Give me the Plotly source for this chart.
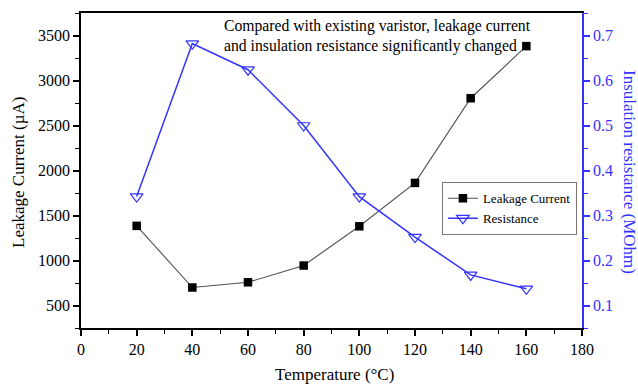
import plotly.graph_objects as go

# Temperature sweep and measured values
temperature = [20, 40, 60, 80, 100, 120, 140, 160]
leakage_current = [1385, 700, 758, 944, 1380, 1862, 2803, 3382]   # µA
resistance = [0.342, 0.682, 0.624, 0.500, 0.342, 0.252, 0.168, 0.137]  # MOhm

x_ticks = [0, 20, 40, 60, 80, 100, 120, 140, 160, 180]
y_ticks = [500, 1000, 1500, 2000, 2500, 3000, 3500]
y2_ticks = [0.1, 0.2, 0.3, 0.4, 0.5, 0.6, 0.7]

FONT = "Liberation Serif"
BLUE = "#3333ff"

fig = go.Figure()

fig.add_trace(go.Scatter(
    x=temperature, y=leakage_current, name="Leakage Current",
    mode="lines+markers",
    line=dict(color="#505050", width=1.1),
    marker=dict(symbol="square", size=8.5, color="black"),
))

fig.add_trace(go.Scatter(
    x=temperature, y=resistance, name="Resistance", yaxis="y2",
    mode="lines+markers",
    line=dict(color=BLUE, width=1.5),
    marker=dict(symbol="triangle-down-open", size=11, color=BLUE, line=dict(width=1.2)),
))

tick_common = dict(showgrid=False, zeroline=False, automargin=False,
                   ticks="outside", ticklen=6, tickwidth=1.5)

fig.update_layout(
    width=638, height=384,
    margin=dict(l=81, r=56, t=13, b=56),
    paper_bgcolor="white", plot_bgcolor="white",
    font=dict(family=FONT, size=16, color="black"),
    showlegend=True,
    legend=dict(
        x=0.72, y=0.463, xanchor="left", yanchor="top",
        bgcolor="white", bordercolor="#777777", borderwidth=1.2,
        font=dict(family=FONT, size=13, color="black"),
        tracegroupgap=0, itemwidth=30,
    ),
    xaxis=dict(
        range=[0, 180], tickvals=x_ticks,
        showline=True, linecolor="black", linewidth=1.6, mirror=True,
        tickcolor="black",
        minor=dict(dtick=10, ticks="outside", ticklen=4, tickwidth=1.3, tickcolor="black"),
        tickfont=dict(family=FONT, size=16),
        **tick_common,
    ),
    yaxis=dict(
        range=[250, 3750], tickvals=y_ticks,
        showline=True, linecolor="black", linewidth=1.6,
        tickcolor="black",
        minor=dict(dtick=250, tick0=250, ticks="outside", ticklen=4, tickwidth=1.3, tickcolor="black"),
        tickfont=dict(family=FONT, size=16),
        **tick_common,
    ),
    yaxis2=dict(
        overlaying="y", side="right",
        range=[0.05, 0.75], tickvals=y2_ticks,
        showline=True, linecolor=BLUE, linewidth=1.8,
        tickcolor=BLUE,
        minor=dict(dtick=0.05, tick0=0.05, ticks="outside", ticklen=4, tickwidth=1.3, tickcolor=BLUE),
        tickfont=dict(family=FONT, size=16, color=BLUE),
        **tick_common,
    ),
    annotations=[
        dict(
            text="Compared with existing varistor, leakage current<br>and insulation resistance significantly changed",
            xref="paper", yref="paper", x=0.281, y=0.994,
            xanchor="left", yanchor="top", showarrow=False, align="left",
            font=dict(family=FONT, size=15.7, color="black"),
        ),
        dict(
            text="Temperature (°C)",
            xref="paper", yref="paper", x=0.505, y=-0.149,
            xanchor="center", yanchor="middle", showarrow=False,
            font=dict(family=FONT, size=17, color="black"),
        ),
        dict(
            text="Leakage Current (µA)",
            xref="paper", yref="paper", x=-0.126, y=0.495,
            xanchor="center", yanchor="middle", showarrow=False, textangle=-90,
            font=dict(family=FONT, size=17, color="black"),
        ),
        dict(
            text="Insulation resistance (MOhm)",
            xref="paper", yref="paper", x=1.096, y=0.495,
            xanchor="center", yanchor="middle", showarrow=False, textangle=90,
            font=dict(family=FONT, size=17, color=BLUE),
        ),
    ],
)

fig.write_html("out.html")
